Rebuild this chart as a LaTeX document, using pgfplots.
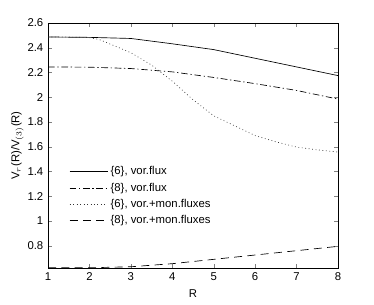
\documentclass[border=0pt]{standalone}
\usepackage{pgfplots}
\pgfplotsset{compat=1.18}
\usepackage{fontspec}
\setmainfont{Liberation Sans}
\begin{document}
\begin{tikzpicture}
\useasboundingbox (0pt,0pt) rectangle (280.5pt,228pt);
\begin{axis}[
  at={(36pt,27pt)}, anchor=south west,
  width=217.5pt, height=183.75pt, scale only axis,
  xmin=1, xmax=8, ymin=0.62, ymax=2.6,
  xtick={1,...,8},
  ytick={0.8,1,1.2,1.4,1.6,1.8,2,2.2,2.4,2.6},
  yticklabels={0.8,1,1.2,1.4,1.6,1.8,2,2.2,2.4,2.6},
  xticklabels={1,2,3,4,5,6,7,8},
  tick align=inside, tick pos=both,
  major tick length=3pt,
  tick label style={font=\fontsize{8.5}{10}\selectfont},
  label style={font=\fontsize{8.5}{10}\selectfont},
  xlabel={R}, ylabel={V$_r$(R)/V$_{(3)}$(R)},
  xlabel style={yshift=0pt},
  ylabel style={yshift=-4pt},
  legend style={at={(0.059,0.437)}, anchor=north west, draw=none, fill=none,
    font=\fontsize{8.5}{10}\selectfont, row sep=0.6pt},
  legend cell align=left,
  legend image code/.code={\draw[#1] (0cm,0cm) -- (1cm,0cm);},
  every axis plot/.append style={line width=0.5pt, black},
]
\addplot[solid] coordinates {(1,2.487)(2,2.484)(3,2.475)(4,2.432)(5,2.385)(6,2.315)(7,2.245)(8,2.175)};
\addlegendentry{\{6\}, vor.flux}
\addplot[dash pattern=on 5pt off 2pt on 1pt off 2pt] coordinates {(1,2.245)(2,2.243)(3,2.232)(4,2.205)(5,2.16)(6,2.11)(7,2.055)(8,1.985)};
\addlegendentry{\{8\}, vor.flux}
\addplot[dash pattern=on 0.6pt off 2pt, black!80] coordinates {(1,2.487)(1.5,2.487)(2,2.482)(2.25,2.465)(2.5,2.43)(3,2.36)(3.5,2.26)(4,2.13)(4.5,1.98)(5,1.85)(5.5,1.77)(6,1.69)(6.5,1.64)(7,1.597)(7.5,1.575)(8,1.557)};
\addlegendentry{\{6\}, vor.+mon.fluxes}
\addplot[dash pattern=on 6pt off 4pt] coordinates {(1,0.622)(2,0.622)(3,0.63)(4,0.655)(5,0.69)(6,0.725)(7,0.76)(8,0.795)};
\addlegendentry{\{8\}, vor.+mon.fluxes}
\end{axis}
\end{tikzpicture}
\end{document}
